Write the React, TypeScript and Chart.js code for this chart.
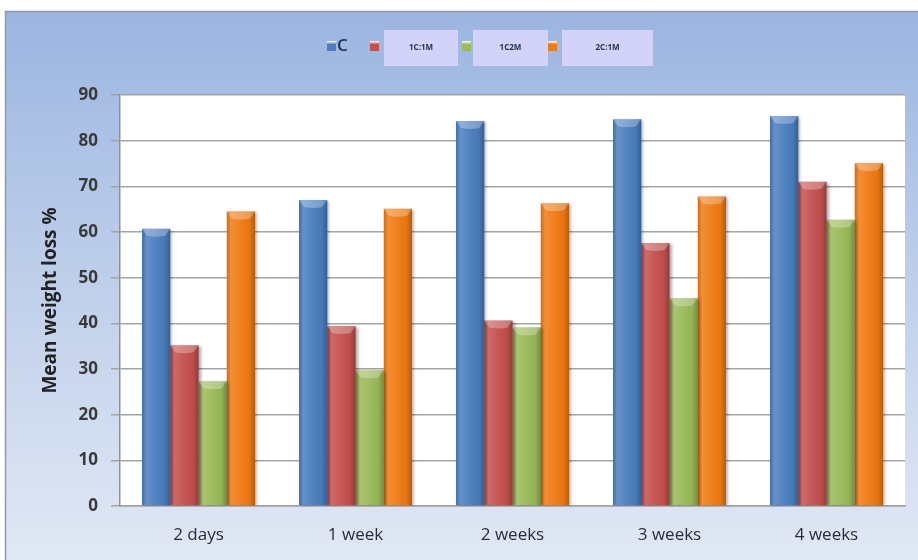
import React, { useEffect, useRef } from "react";
import { Chart, registerables } from "chart.js";
Chart.register(...registerables);

const categories = ["2 days", "1 week", "2 weeks", "3 weeks", "4 weeks"];
const seriesNames = ["C", "1C:1M", "1C2M", "2C:1M"];
const valuesC = [60.7, 67.0, 84.3, 84.7, 85.4];
const values1C1M = [35.2, 39.4, 40.6, 57.6, 71.0];
const values1C2M = [27.3, 29.7, 39.1, 45.5, 62.7];
const values2C1M = [64.5, 65.1, 66.3, 67.8, 75.1];
const yMin = 0;
const yMax = 90;
const yStep = 10;
const yTitle = "Mean weight loss %";
const seriesColors = ["#4a7ebf", "#c4504e", "#9bbb59", "#f07b12"];

const W = 918;
const H = 560;

const backgroundPlugin = {
  id: "bgPlugin",
  beforeDraw(chart: any) {
    const { ctx, chartArea } = chart;
    ctx.save();
    ctx.fillStyle = "#ffffff";
    ctx.fillRect(0, 0, W, H);
    const g = ctx.createLinearGradient(0, 11, 0, H);
    g.addColorStop(0, "#9bb5e1");
    g.addColorStop(0.45, "#bccde9");
    g.addColorStop(1, "#e1e8f5");
    ctx.fillStyle = g;
    ctx.fillRect(5, 11, W - 5, H - 11);
    ctx.strokeStyle = "#8f99aa";
    ctx.lineWidth = 1.5;
    ctx.strokeRect(5.5, 11.5, W, H);
    ctx.fillStyle = "#ffffff";
    ctx.fillRect(chartArea.left, chartArea.top, chartArea.right - chartArea.left, chartArea.bottom - chartArea.top);
    ctx.restore();
  },
};

const shadowPlugin = {
  id: "shadowPlugin",
  beforeDatasetDraw(chart: any) {
    const ctx = chart.ctx;
    ctx.save();
    ctx.shadowColor = "rgba(0,0,0,0.35)";
    ctx.shadowBlur = 3;
    ctx.shadowOffsetX = 2;
    ctx.shadowOffsetY = 1;
  },
  afterDatasetDraw(chart: any) {
    chart.ctx.restore();
  },
  afterDatasetsDraw(chart: any) {
    const ctx = chart.ctx;
    ctx.save();
    chart.data.datasets.forEach((_: any, di: number) => {
      const meta = chart.getDatasetMeta(di);
      meta.data.forEach((bar: any) => {
        const left = bar.x - bar.width / 2;
        const w = bar.width;
        const top = bar.y;
        const h = bar.base - bar.y;
        const g = ctx.createLinearGradient(left, 0, left + w, 0);
        g.addColorStop(0, "rgba(0,0,0,0.10)");
        g.addColorStop(0.15, "rgba(255,255,255,0.15)");
        g.addColorStop(0.45, "rgba(255,255,255,0.05)");
        g.addColorStop(0.8, "rgba(0,0,0,0.04)");
        g.addColorStop(1, "rgba(0,0,0,0.25)");
        ctx.fillStyle = g;
        ctx.fillRect(left, top, w, h);
        const cap = Math.min(7, h);
        ctx.beginPath();
        ctx.moveTo(left, top);
        ctx.lineTo(left + w, top);
        ctx.lineTo(left + w - 5, top + cap);
        ctx.quadraticCurveTo(left + w / 2, top + cap + 2, left + 5, top + cap);
        ctx.closePath();
        ctx.fillStyle = "rgba(255,255,255,0.28)";
        ctx.fill();
      });
    });
    ctx.restore();
  },
};

const legendPlugin = {
  id: "customLegend",
  afterDraw(chart: any) {
    const ctx = chart.ctx;
    ctx.save();
    const boxes = [
      { sq: 327, box: null as null | number[] },
      { sq: 370, box: [384, 30, 74, 36] },
      { sq: 462, box: [473, 30, 75, 36] },
      { sq: 548, box: [562, 30, 91, 36] },
    ];
    boxes.forEach((b) => {
      if (b.box) {
        ctx.fillStyle = "#d3d3fa";
        ctx.fillRect(b.box[0], b.box[1], b.box[2], b.box[3]);
      }
    });
    boxes.forEach((b, i) => {
      const g = ctx.createLinearGradient(0, 41, 0, 51);
      g.addColorStop(0, "#ffffff");
      g.addColorStop(0.35, seriesColors[i]);
      g.addColorStop(1, seriesColors[i]);
      ctx.fillStyle = g;
      ctx.fillRect(b.sq, 41, 9, 10);
      ctx.textBaseline = "middle";
      if (i === 0) {
        ctx.fillStyle = "#1f2f55";
        ctx.font = "600 17px 'Open Sans'";
        ctx.textAlign = "left";
        ctx.fillText(seriesNames[0], b.sq + 10, 46);
      } else if (b.box) {
        ctx.fillStyle = "#1f2f55";
        ctx.font = "bold 8px 'Open Sans'";
        ctx.textAlign = "center";
        ctx.fillText(seriesNames[i], b.box[0] + b.box[2] / 2, 48);
      }
    });
    ctx.restore();
  },
};

export default function App() {
  const ref = useRef<HTMLCanvasElement>(null);
  useEffect(() => {
    document.body.style.margin = "0";
    const c = ref.current!;
    const seriesValues = [valuesC, values1C1M, values1C2M, values2C1M];
    const chart = new Chart(c, {
      type: "bar",
      data: {
        labels: categories,
        datasets: seriesNames.map((name, i) => ({
          label: name,
          data: seriesValues[i],
          backgroundColor: seriesColors[i],
          borderWidth: 0,
          categoryPercentage: 0.72,
          barPercentage: 1,
        })),
      },
      options: {
        responsive: false,
        animation: false,
        devicePixelRatio: 1,
        layout: { padding: { top: 95, right: 13, left: 0, bottom: 0 } },
        plugins: { legend: { display: false }, tooltip: { enabled: false }, title: { display: false } },
        scales: {
          x: {
            grid: { display: false, drawTicks: false },
            border: { display: true, color: "#a0a0a0", width: 1.5 },
            ticks: { color: "#2a2a3a", font: { family: "'Open Sans'", size: 17 }, padding: 19 },
            afterFit(scale: any) { scale.height = 54; },
          },
          y: {
            min: yMin,
            max: yMax,
            ticks: { stepSize: yStep, color: "#3a3a3a", font: { family: "'Open Sans'", size: 17, weight: "bold" }, padding: 13 },
            grid: { color: "#a3a3a3", lineWidth: 1.5, tickLength: 9, drawTicks: true },
            border: { display: true, color: "#909090", width: 1.5 },
            title: { display: true, text: yTitle, color: "#222", font: { family: "'Open Sans'", size: 19, weight: "bold" }, padding: { top: 39, bottom: 0 } },
            afterFit(scale: any) { scale.width = 120; },
          },
        },
      },
      plugins: [backgroundPlugin, shadowPlugin, legendPlugin],
    });
    return () => chart.destroy();
  }, []);
  return (
    <div style={{ width: W, height: H }}>
      <canvas ref={ref} width={W} height={H} style={{ display: "block" }} />
    </div>
  );
}
